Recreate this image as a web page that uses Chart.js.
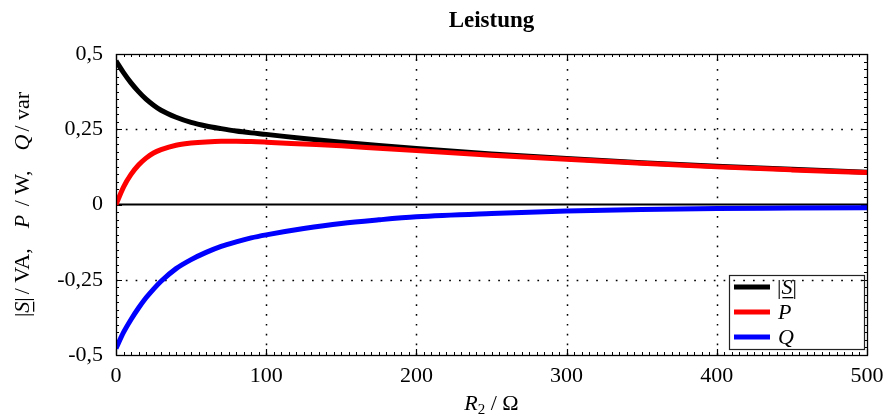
<!DOCTYPE html>
<html>
<head>
<meta charset="utf-8">
<script src="https://cdn.jsdelivr.net/npm/chart.js@4.4.1/dist/chart.umd.min.js"></script>
<style>
  html, body { margin: 0; padding: 0; background: #ffffff; }
  #wrap { width: 892px; height: 417px; position: relative; }
</style>
</head>
<body>
<div id="wrap"><canvas id="c" width="892" height="417"></canvas></div>
<script>
// Load resistance R2 in ohms
const resistance = [0, 5, 10, 15, 20, 25, 30, 40, 50, 60, 70, 80, 90, 100,
                    125, 150, 175, 200, 250, 300, 350, 400, 450, 500];
// Apparent power |S| in VA
const apparentPower = [0.477, 0.438, 0.404, 0.375, 0.350, 0.330, 0.313, 0.290, 0.273, 0.261,
                       0.252, 0.244, 0.238, 0.233, 0.219, 0.207, 0.196, 0.186, 0.168, 0.153,
                       0.139, 0.127, 0.117, 0.107];
// Active power P in W
const activePower = [0, 0.058, 0.100, 0.131, 0.154, 0.171, 0.182, 0.197, 0.204, 0.208,
                     0.210, 0.210, 0.209, 0.207, 0.201, 0.195, 0.187, 0.179, 0.164, 0.150,
                     0.137, 0.125, 0.115, 0.106];
// Reactive power Q in var
const reactivePower = [-0.478, -0.425, -0.382, -0.344, -0.310, -0.281, -0.255, -0.213, -0.183, -0.159,
                       -0.139, -0.124, -0.111, -0.101, -0.080, -0.063, -0.051, -0.041, -0.030, -0.022,
                       -0.017, -0.0135, -0.012, -0.0105];

const xTickValues = [0, 100, 200, 300, 400, 500];
const yTickValues = [-0.5, -0.25, 0, 0.25, 0.5];
const seriesNames = ['|S|', 'P', 'Q'];
const seriesColors = ['#000000', '#ff0000', '#0000ff'];

const SERIF = '"Liberation Serif", "Times New Roman", serif';

function points(ys) {
  return resistance.map((r, i) => ({ x: r, y: ys[i] }));
}

// Draws a row of text runs (mixed upright / italic / underlined) centred on cx
function drawRuns(ctx, runs, cx, cy, rotate) {
  ctx.save();
  ctx.translate(cx, cy);
  if (rotate) ctx.rotate(-Math.PI / 2);
  ctx.textBaseline = 'alphabetic';
  ctx.textAlign = 'left';
  let total = 0;
  runs.forEach(r => { ctx.font = r.font; r.w = ctx.measureText(r.text).width; total += r.w + (r.gap || 0); });
  let pos = -total / 2;
  runs.forEach(r => {
    ctx.font = r.font;
    ctx.fillStyle = '#000';
    ctx.fillText(r.text, pos, r.dy || 0);
    if (r.underline) {
      ctx.fillRect(pos + 1, 4, r.w - 1, 1.3);
    }
    pos += r.w + (r.gap || 0);
  });
  ctx.restore();
}

const framePlugin = {
  id: 'frame',
  beforeDatasetsDraw(chart) {
    const { ctx, chartArea: a, scales: { x, y } } = chart;
    ctx.save();
    // dotted grid lines
    ctx.strokeStyle = '#000';
    ctx.lineWidth = 1.5;
    ctx.setLineDash([1.7, 8.1]);
    xTickValues.slice(1, -1).forEach(v => {
      const px = Math.round(x.getPixelForValue(v)) + 0.5;
      ctx.beginPath(); ctx.moveTo(px, a.bottom); ctx.lineTo(px, a.top); ctx.stroke();
    });
    yTickValues.filter(v => v !== 0 && Math.abs(v) !== 0.5).forEach(v => {
      const py = Math.round(y.getPixelForValue(v)) + 0.5;
      ctx.beginPath(); ctx.moveTo(a.left, py); ctx.lineTo(a.right, py); ctx.stroke();
    });
    ctx.setLineDash([]);
    // zero line
    const y0 = y.getPixelForValue(0);
    ctx.lineWidth = 2.2;
    ctx.beginPath(); ctx.moveTo(a.left, y0); ctx.lineTo(a.right, y0); ctx.stroke();
    // major ticks on all four sides, pointing inward
    ctx.lineWidth = 1.2;
    xTickValues.forEach(v => {
      const px = Math.round(x.getPixelForValue(v)) + 0.5;
      ctx.beginPath();
      ctx.moveTo(px, a.bottom); ctx.lineTo(px, a.bottom - 6);
      ctx.moveTo(px, a.top); ctx.lineTo(px, a.top + 6);
      ctx.stroke();
    });
    yTickValues.forEach(v => {
      const py = Math.round(y.getPixelForValue(v)) + 0.5;
      ctx.beginPath();
      ctx.moveTo(a.left, py); ctx.lineTo(a.left + 6, py);
      ctx.moveTo(a.right, py); ctx.lineTo(a.right - 6, py);
      ctx.stroke();
    });
    // minor ticks
    ctx.lineWidth = 1;
    for (let v = 5; v < 500; v += 5) {
      if (v % 100 === 0) continue;
      const px = Math.round(x.getPixelForValue(v)) + 0.5;
      ctx.beginPath();
      ctx.moveTo(px, a.bottom); ctx.lineTo(px, a.bottom - 3);
      ctx.moveTo(px, a.top); ctx.lineTo(px, a.top + 3);
      ctx.stroke();
    }
    for (let k = -19; k <= 19; k++) {
      if (k % 10 === 0) continue;
      const py = Math.round(y.getPixelForValue(k * 0.025)) + 0.5;
      ctx.beginPath();
      ctx.moveTo(a.left, py); ctx.lineTo(a.left + 3, py);
      ctx.moveTo(a.right, py); ctx.lineTo(a.right - 3, py);
      ctx.stroke();
    }
    ctx.restore();
  },
  afterDatasetsDraw(chart) {
    const { ctx, chartArea: a } = chart;
    ctx.save();
    // plot frame
    ctx.strokeStyle = '#000';
    ctx.lineWidth = 1.3;
    ctx.strokeRect(Math.round(a.left) + 0.5, Math.round(a.top) + 0.5,
                   Math.round(a.right - a.left), Math.round(a.bottom - a.top));

    // legend box in the lower right corner
    const lx = 729.5, ly = 275.5, lw = 135, lh = 74;
    ctx.lineWidth = 1.2;
    ctx.strokeStyle = '#222';
    ctx.strokeRect(lx, ly, lw, lh);
    const rowY = [287, 312, 337];
    const upright = '22px ' + SERIF;
    const italic = 'italic 22px ' + SERIF;
    seriesNames.forEach((name, i) => {
      ctx.strokeStyle = seriesColors[i];
      ctx.lineWidth = 5;
      ctx.beginPath(); ctx.moveTo(734, rowY[i]); ctx.lineTo(770, rowY[i]); ctx.stroke();
    });
    ctx.fillStyle = '#000';
    ctx.textBaseline = 'alphabetic';
    ctx.textAlign = 'left';
    // |S| with underlined S
    ctx.font = upright;
    let px = 777;
    ctx.fillText('|', px, rowY[0] + 7);
    px += ctx.measureText('|').width;
    ctx.font = italic;
    const sw = ctx.measureText('S').width;
    ctx.fillText('S', px, rowY[0] + 7);
    ctx.fillRect(px + 1, rowY[0] + 10, sw, 1.3);
    px += sw;
    ctx.font = upright;
    ctx.fillText('|', px, rowY[0] + 7);
    ctx.font = italic;
    ctx.fillText('P', 778, rowY[1] + 7);
    ctx.fillText('Q', 778, rowY[2] + 7);

    // chart title
    ctx.font = 'bold 23px ' + SERIF;
    ctx.textAlign = 'center';
    ctx.fillText('Leistung', (a.left + a.right) / 2, 27);
    ctx.restore();

    // x axis title: R2 / Ω
    drawRuns(ctx, [
      { text: 'R', font: italic },
      { text: '2', font: '15px ' + SERIF, dy: 4 },
      { text: ' / Ω', font: upright }
    ], (a.left + a.right) / 2, 410, false);

    // y axis title: |S| / VA,  P / W,  Q / var
    drawRuns(ctx, [
      { text: '|', font: upright },
      { text: 'S', font: italic, underline: true },
      { text: '|', font: upright, gap: 3 },
      { text: '/ VA,', font: upright, gap: 20 },
      { text: 'P', font: italic, gap: 3 },
      { text: ' / W,', font: upright, gap: 20 },
      { text: 'Q', font: italic, gap: 3 },
      { text: '/ var', font: upright }
    ], 29, (a.top + a.bottom) / 2, true);
  }
};

new Chart(document.getElementById('c'), {
  type: 'line',
  data: {
    datasets: [
      { label: seriesNames[0], data: points(apparentPower), borderColor: seriesColors[0], order: 2 },
      { label: seriesNames[1], data: points(activePower), borderColor: seriesColors[1], order: 1 },
      { label: seriesNames[2], data: points(reactivePower), borderColor: seriesColors[2], order: 3 }
    ]
  },
  options: {
    responsive: false,
    animation: false,
    devicePixelRatio: 1,
    layout: { padding: { left: 0, right: 25, top: 54, bottom: 0 } },
    elements: {
      line: { borderWidth: 5, cubicInterpolationMode: 'monotone', fill: false, borderCapStyle: 'butt' },
      point: { radius: 0 }
    },
    plugins: { legend: { display: false }, title: { display: false }, tooltip: { enabled: false } },
    scales: {
      x: {
        type: 'linear', min: 0, max: 500,
        afterFit(s) { s.height = 62; },
        afterBuildTicks(s) { s.ticks = xTickValues.map(v => ({ value: v })); },
        grid: { display: false, drawTicks: false },
        border: { display: false },
        ticks: { color: '#000', padding: 8, maxRotation: 0, font: { family: SERIF, size: 22 } }
      },
      y: {
        type: 'linear', min: -0.5, max: 0.5,
        afterFit(s) { s.width = 116; },
        afterBuildTicks(s) { s.ticks = yTickValues.map(v => ({ value: v })); },
        grid: { display: false, drawTicks: false },
        border: { display: false },
        ticks: {
          color: '#000', padding: 13, font: { family: SERIF, size: 22 },
          callback: v => String(v).replace('.', ',')
        }
      }
    }
  },
  plugins: [framePlugin]
});
</script>
</body>
</html>
